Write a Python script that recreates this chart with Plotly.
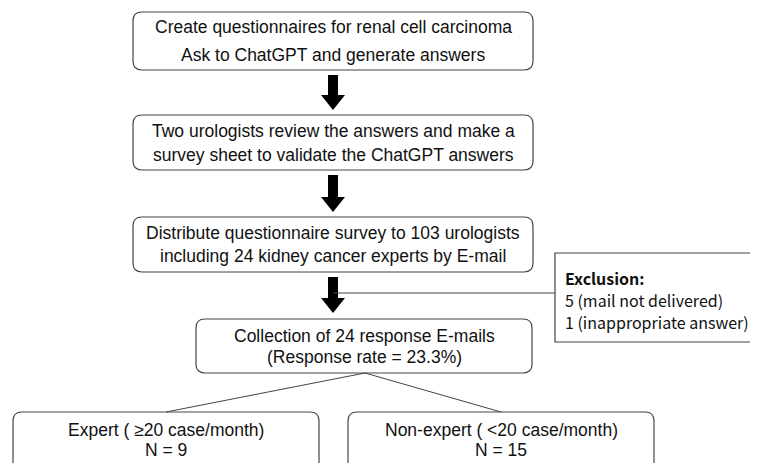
import plotly.graph_objects as go

# ---- content ----
step_lines = [
    ["Create questionnaires for renal cell carcinoma", "Ask to ChatGPT and generate answers"],
    ["Two urologists review the answers and make a", "survey sheet to validate the ChatGPT answers"],
    ["Distribute questionnaire survey to 103 urologists", "including 24 kidney cancer experts by E-mail"],
    ["Collection of 24 response E-mails", "(Response rate = 23.3%)"],
]
group_lines = [
    ["Expert ( \u226520 case/month)", "N = 9"],
    ["Non-expert ( <20 case/month)", "N = 15"],
]
exclusion_title = "Exclusion:"
exclusion_lines = ["5 (mail not delivered)", "1 (inappropriate answer)"]

# ---- layout geometry (page pixels) ----
W, H = 758, 463
OFF = 8  # page body margin
step_boxes = [(133, 12, 533, 70), (133, 115, 533, 170), (133, 217, 533, 272), (196, 319, 532, 373)]
step_text_y = [(27, 55), (131, 155), (233, 256), (336, 357)]
group_boxes = [(13, 412, 319, 475), (348, 412, 654, 475)]
group_text_y = [(430, 450), (430, 450)]
arrows = [(75, 110), (175, 212), (277, 313)]
ax_x = 333
excl_box = (555, 253, 770, 342)

BORDER = "#444444"
FONT = "Liberation Sans, Arial, sans-serif"


def rrect(x0, y0, x1, y1, r=9):
    return (f"M {x0+r},{y0} L {x1-r},{y0} Q {x1},{y0} {x1},{y0+r} "
            f"L {x1},{y1-r} Q {x1},{y1} {x1-r},{y1} L {x0+r},{y1} "
            f"Q {x0},{y1} {x0},{y1-r} L {x0},{y0+r} Q {x0},{y0} {x0+r},{y0} Z")


fig = go.Figure()
shapes = []
annotations = []

for (x0, y0, x1, y1) in step_boxes + group_boxes:
    shapes.append(dict(type="path", path=rrect(x0, y0, x1, y1), xref="x", yref="y",
                       line=dict(color=BORDER, width=1.2), fillcolor="white"))

for (ys, ye) in arrows:
    hw, sw, hl = 12, 5, 15
    p = (f"M {ax_x-sw},{ys} L {ax_x+sw},{ys} L {ax_x+sw},{ye-hl} L {ax_x+hw},{ye-hl} "
         f"L {ax_x},{ye} L {ax_x-hw},{ye-hl} L {ax_x-sw},{ye-hl} Z")
    shapes.append(dict(type="path", path=p, xref="x", yref="y",
                       line=dict(color="black", width=0), fillcolor="black"))

# exclusion connector and box
shapes.append(dict(type="line", x0=ax_x, y0=293, x1=excl_box[0], y1=293, xref="x", yref="y",
                   line=dict(color=BORDER, width=1)))
shapes.append(dict(type="rect", x0=excl_box[0], y0=excl_box[1], x1=excl_box[2], y1=excl_box[3],
                   xref="x", yref="y", line=dict(color=BORDER, width=1.2), fillcolor="white"))

# split lines
bx = step_boxes[3]
cx = (bx[0] + bx[2]) / 2 + 1
for gb in group_boxes:
    shapes.append(dict(type="line", x0=cx, y0=bx[3], x1=(gb[0] + gb[2]) / 2, y1=gb[1],
                       xref="x", yref="y", line=dict(color=BORDER, width=1)))

for (x0, y0, x1, y1), lines, ys in zip(step_boxes + group_boxes, step_lines + group_lines,
                                        step_text_y + group_text_y):
    for t, y in zip(lines, ys):
        annotations.append(dict(x=(x0 + x1) / 2, y=y, text=t, showarrow=False, xref="x", yref="y",
                                xanchor="center", yanchor="middle",
                                font=dict(family=FONT, size=17.5, color="#111111")))

EFONT = "Noto Sans CJK KR, Noto Sans, sans-serif"
annotations.append(dict(x=563, y=278, text=f"<b>{exclusion_title}</b>", showarrow=False,
                        xref="x", yref="y", xanchor="left", yanchor="middle",
                        font=dict(family=EFONT, size=16, color="#111111")))
for t, y in zip(exclusion_lines, (300, 322)):
    annotations.append(dict(x=563, y=y, text=t, showarrow=False, xref="x", yref="y",
                            xanchor="left", yanchor="middle",
                            font=dict(family=EFONT, size=16, color="#111111")))

fig.update_layout(
    width=W - OFF, height=H - OFF, margin=dict(l=0, r=0, t=0, b=0),
    paper_bgcolor="white", plot_bgcolor="white",
    xaxis=dict(range=[OFF, W], visible=False, fixedrange=True),
    yaxis=dict(range=[H, OFF], visible=False, fixedrange=True),
    shapes=shapes, annotations=annotations, showlegend=False,
)
fig.write_html("out.html")
